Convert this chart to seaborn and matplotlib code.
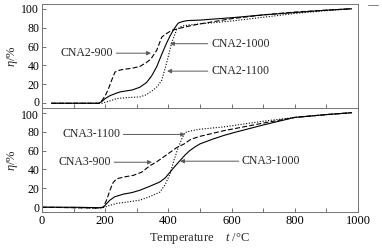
import matplotlib
matplotlib.use("Agg")
import matplotlib.pyplot as plt
import matplotlib.transforms as mtransforms
import seaborn as sns
import pandas as pd
from matplotlib.lines import Line2D

# ---- data ----
cna2_900_t = [30, 100, 180, 190, 200, 210, 220, 231, 245, 260, 285, 310, 330, 345, 363, 379, 395, 410, 437, 470, 500, 600, 700, 800, 900, 980]
cna2_900_v = [0, 0, 0, 3, 8, 15, 24, 33, 35, 36, 37, 39, 43, 47, 56, 70, 74, 77, 79.5, 82, 84, 89.5, 93.5, 96.5, 98.5, 100]

cna2_1000_t = [30, 100, 180, 190, 200, 215, 230, 247, 265, 285, 310, 331, 347, 363, 378, 394, 405, 416, 425, 431, 445, 460, 500, 600, 700, 800, 900, 980]
cna2_1000_v = [0, 0, 0, 2, 5, 8, 10, 12, 13, 14, 17, 22, 29, 38.6, 51, 63.5, 71, 77.6, 82, 84.8, 86.5, 87.5, 88, 90.5, 93.5, 96, 98.5, 100]

cna2_1100_t = [30, 100, 190, 200, 220, 236, 270, 310, 330, 352, 366, 379, 394, 410, 426, 437, 447, 470, 500, 600, 700, 800, 900, 980]
cna2_1100_v = [0, 0, 0, 1, 3, 5, 6, 6.7, 9, 14, 18, 24.5, 42, 63.5, 77.7, 80.5, 82, 83, 84, 87, 91, 95, 98, 100]

cna3_900_t = [0, 100, 180, 194, 205, 215, 225, 236, 260, 289, 315, 342, 363, 384, 405, 426, 450, 472, 500, 576, 700, 800, 900, 980]
cna3_900_v = [0, -0.5, -1, 0, 8, 18, 26, 30, 32, 33.7, 37, 44, 48, 53, 58, 63, 67, 72, 75, 81, 89, 95, 98, 100]

cna3_1000_t = [0, 100, 180, 194, 205, 215, 230, 257, 285, 310, 340, 373, 390, 405, 420, 437, 452, 468, 485, 500, 540, 576, 608, 700, 800, 900, 980]
cna3_1000_v = [0, 0, -0.5, 0, 4, 7.5, 11, 13.8, 15.5, 18, 22, 26.7, 31, 37, 43, 49.4, 55, 60, 64, 67, 72, 76, 79, 87, 95, 98, 100]

cna3_1100_t = [0, 100, 180, 194, 215, 236, 270, 310, 340, 373, 390, 405, 418, 431, 442, 452, 475, 500, 576, 700, 800, 900, 980]
cna3_1100_v = [0, -0.5, -1, -0.5, 2, 4, 5.5, 7.5, 11, 16, 24, 35, 50, 63, 72, 79, 81, 82.5, 85, 91, 95, 98, 100]

panels = [
    {"CNA2-900": (cna2_900_t, cna2_900_v),
     "CNA2-1000": (cna2_1000_t, cna2_1000_v),
     "CNA2-1100": (cna2_1100_t, cna2_1100_v)},
    {"CNA3-900": (cna3_900_t, cna3_900_v),
     "CNA3-1000": (cna3_1000_t, cna3_1000_v),
     "CNA3-1100": (cna3_1100_t, cna3_1100_v)},
]

# label text, text position, arrow tip, text alignment
labels = [
    [("CNA2-900", (225, 53), (345, 53), "right"),
     ("CNA2-1000", (535, 63), (405, 63), "left"),
     ("CNA2-1100", (535, 34), (396, 34), "left")],
    [("CNA3-1100", (247, 77), (453, 77), "right"),
     ("CNA3-900", (218, 47.6), (348, 47.6), "right"),
     ("CNA3-1000", (633, 48.7), (437, 48.7), "left")],
]

sns.set_theme(style="white")
plt.rcParams["font.family"] = ["Liberation Serif", "DejaVu Serif"]
plt.rcParams["mathtext.fontset"] = "custom"
plt.rcParams["mathtext.rm"] = "Liberation Serif"
plt.rcParams["mathtext.it"] = "Liberation Serif:italic"

fig, axes = plt.subplots(2, 1, figsize=(3.82, 2.52), dpi=100, sharex=True)
fig.subplots_adjust(left=0.110, right=0.937, top=0.984, bottom=0.159, hspace=0)

dash_map = lambda name: "" if name.endswith("-1000") else ((4.5, 2) if name.endswith("-900") else (1, 1.5))

for ax, series, labs in zip(axes, panels, labels):
    rows = []
    for name, (t, v) in series.items():
        rows += [{"t": a, "eta": b, "series": name} for a, b in zip(t, v)]
    df = pd.DataFrame(rows)
    sns.lineplot(data=df, x="t", y="eta", style="series",
                 dashes={n: dash_map(n) for n in series},
                 color="black", lw=0.8, legend=False, ax=ax,
                 estimator=None, sort=False)

    for txt, xyt, xy, ha in labs:
        ax.annotate(txt, xy=xy, xytext=xyt, ha=ha, va="center", fontsize=8.5,
                    arrowprops=dict(arrowstyle="-|>", color="0.35", lw=0.7,
                                    mutation_scale=6, shrinkA=0, shrinkB=0))

    ax.set_xlim(0, 1000)
    ax.set_ylim(-5, 105)
    ax.set_yticks([0, 20, 40, 60, 80, 100])
    ax.set_xticks(range(0, 1001, 100))
    ax.set_xticklabels([str(x) if x % 200 == 0 else "" for x in range(0, 1001, 100)])
    ax.tick_params(direction="in", length=3, width=0.6, pad=2,
                   bottom=True, left=True, colors="0.35", labelcolor="black")
    ax.tick_params(axis="x", labelsize=9)
    ax.tick_params(axis="y", labelsize=8.5)
    ax.set_ylabel(r"$\eta$/%", fontsize=9, labelpad=1)
    ax.set_xlabel("")
    for s in ax.spines.values():
        s.set_color("0.45")
        s.set_linewidth(0.7)

axes[1].set_xlabel(r"Temperature    $t$ /°C", fontsize=9, labelpad=3)

# the "0" of the upper panel and the "100" of the lower one sit very close: nudge apart
fig.canvas.draw()
top_zero = axes[0].get_yticklabels()[0]
top_zero.set_transform(top_zero.get_transform() + mtransforms.ScaledTranslation(0, 1.5 / 72, fig.dpi_scale_trans))
bot_hundred = axes[1].get_yticklabels()[-1]
bot_hundred.set_transform(bot_hundred.get_transform() + mtransforms.ScaledTranslation(0, -1.5 / 72, fig.dpi_scale_trans))

fig.add_artist(Line2D([368 / 382, 378 / 382], [1 - 5 / 252] * 2, color="0.5", lw=0.7))

fig.savefig("out.png", dpi=100)
